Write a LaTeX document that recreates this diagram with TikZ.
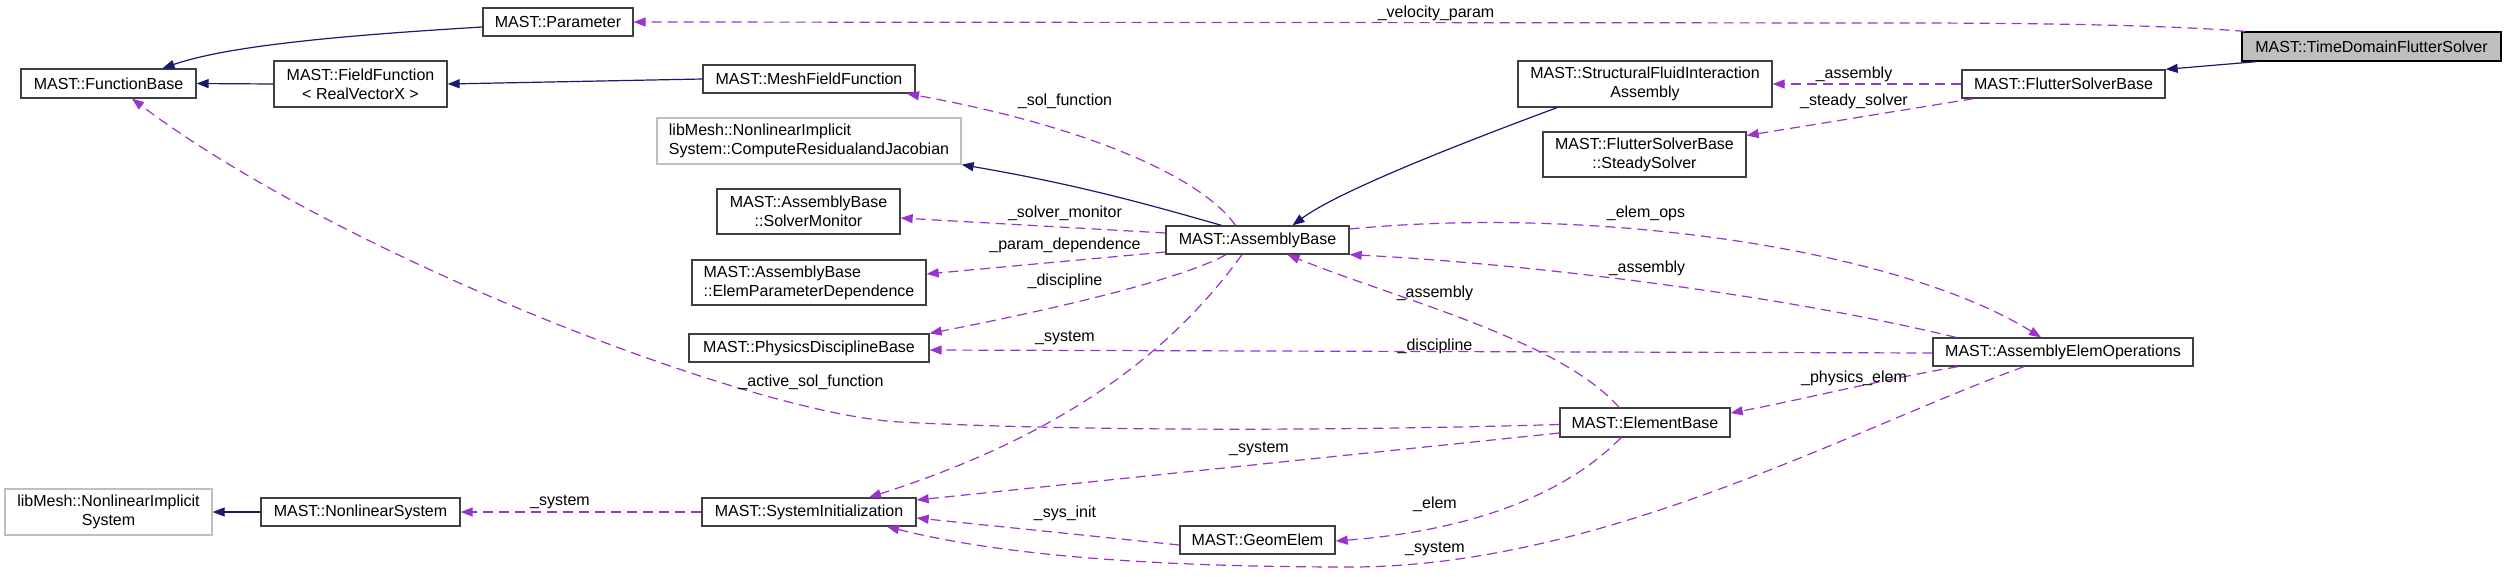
\documentclass[tikz,border=0pt]{standalone}
\usepackage{fontspec}
\setmainfont{Liberation Sans}
\usetikzlibrary{arrows.meta}
\definecolor{inh}{HTML}{191970}
\definecolor{use}{HTML}{9A32CD}
\definecolor{bord}{HTML}{404040}
\definecolor{ext}{HTML}{BFBFBF}
\begin{document}
\begin{tikzpicture}[x=1pt,y=-1pt,
  cls/.style={draw=bord, line width=1.3pt, fill=white, inner sep=0pt, font=\fontsize{16}{19}\selectfont, align=center},
  extcls/.style={cls, draw=ext},
  focus/.style={cls, draw=black, fill=ext},
  sz/.style 2 args={minimum width=#1pt, minimum height=#2pt},
  lbl/.style={inner sep=0pt, font=\fontsize{16}{19}\selectfont},
  inhe/.style={draw=inh, line width=1.2pt, -{Triangle[length=12pt,width=9pt]}},
  usee/.style={draw=use, line width=1.2pt, dash pattern=on 10pt off 6pt, -{Triangle[length=12pt,width=9pt]}}
]
\useasboundingbox[fill=white] (0,0) rectangle (2507,576);

% nodes
\node[cls, sz={150}{28}] (param) at (558,22) {MAST::Parameter};
\node[cls, sz={175}{29}] (fb) at (108.5,83.5) {MAST::FunctionBase};
\node[cls, sz={173}{46}] (ff) at (360.5,84) {MAST::FieldFunction\\{<} RealVectorX {>}};
\node[cls, sz={212}{28}] (mff) at (809,79) {MAST::MeshFieldFunction};
\node[extcls, sz={304}{46}, align=left] (crj) at (809,141) {libMesh::NonlinearImplicit\\System::ComputeResidualandJacobian};
\node[cls, sz={254}{46}] (sfia) at (1645,84) {MAST::StructuralFluidInteraction\\Assembly};
\node[cls, sz={203}{45}] (ss) at (1644.5,154.5) {MAST::FlutterSolverBase\\::SteadySolver};
\node[cls, sz={203}{28}] (fsb) at (2063.5,84) {MAST::FlutterSolverBase};
\node[focus, sz={259}{29}] (tdfs) at (2371.5,46.5) {MAST::TimeDomainFlutterSolver};
\node[cls, sz={183}{45}] (sm) at (808.5,211.5) {MAST::AssemblyBase\\::SolverMonitor};
\node[cls, sz={183}{28}] (ab) at (1257.5,240) {MAST::AssemblyBase};
\node[cls, sz={234}{45}, align=left] (epd) at (809,282.5) {MAST::AssemblyBase\\::ElemParameterDependence};
\node[cls, sz={240}{28}] (pdb) at (809,348) {MAST::PhysicsDisciplineBase};
\node[cls, sz={260}{28}] (aeo) at (2063,352) {MAST::AssemblyElemOperations};
\node[cls, sz={170}{29}] (eb) at (1645,422.5) {MAST::ElementBase};
\node[cls, sz={155}{28}] (ge) at (1257.5,540) {MAST::GeomElem};
\node[cls, sz={214}{28}] (si) at (809,512) {MAST::SystemInitialization};
\node[cls, sz={199}{28}] (nls) at (360.5,512) {MAST::NonlinearSystem};
\node[extcls, sz={207}{46}] (nis) at (108.5,512) {libMesh::NonlinearImplicit\\System};

% inheritance
\draw[inhe] ([yshift=-5pt]param.west) .. controls (350,35) and (230,45) .. ([xshift=54pt]fb.north);
\draw[inhe] (ff.west) -- (fb.east);
\draw[inhe] (mff.west) -- (ff.east);
\draw[inhe] ([xshift=-36pt]ab.north) .. controls (1150,205) and (1080,185) .. (crj.south east);
\draw[inhe] ([xshift=-88pt]sfia.south) .. controls (1470,140) and (1340,190) .. ([xshift=35pt]ab.north);
\draw[inhe] ([xshift=-115pt]tdfs.south) -- (fsb.north east);
\draw[inhe] (nls.west) -- (nis.east);

% usage
\draw[usee] ([xshift=4pt]tdfs.north west) .. controls (2150,24) and (2000,23) .. (1900,23) -- (param.east);
\draw[usee] (fsb.west) -- (sfia.east);
\draw[usee] ([xshift=-90pt]fsb.south) -- ([yshift=19pt]ss.east);
\draw[usee] ([xshift=-22pt]ab.north) .. controls (1200,175) and (1080,125) .. ([xshift=98pt]mff.south);
\draw[usee] ([yshift=7pt]ab.west) -- ([yshift=-6.5pt]sm.east);
\draw[usee] ([yshift=-12pt]ab.west) -- ([yshift=8.5pt]epd.east);
\draw[usee] ([xshift=-31.5pt]ab.south) .. controls (1180,280) and (1050,310) .. (pdb.north east);
\draw[usee] ([xshift=-15.5pt]ab.south) .. controls (1180,340) and (1080,430) .. ([xshift=60pt]si.north);
\draw[usee] ([yshift=11pt]ab.east) .. controls (1600,205) and (1900,250) .. ([xshift=-22pt]aeo.north);
\draw[usee] ([xshift=-107pt]aeo.north) .. controls (1760,290) and (1500,262) .. (ab.south east);
\draw[usee] ([xshift=-26pt]eb.north) .. controls (1560,340) and (1400,300) .. ([xshift=30pt]ab.south);
\draw[usee] ([yshift=-1pt]aeo.west) -- ([yshift=-2pt]pdb.east);
\draw[usee] ([yshift=-2pt]eb.west) .. controls (1300,432) and (1050,430) .. (900,422) .. controls (750,414) and (340,255) .. ([xshift=23.5pt]fb.south);
\draw[usee] ([yshift=-10.5pt]eb.west) -- ([yshift=12pt]si.east);
\draw[usee] ([xshift=-24pt]eb.south) .. controls (1570,490) and (1480,530) .. ([yshift=-1pt]ge.east);
\draw[usee] ([xshift=-105pt]aeo.south) .. controls (1880,380) and (1800,400) .. ([yshift=9.5pt]eb.east);
\draw[usee] ([xshift=-39pt]aeo.south) .. controls (1850,430) and (1600,567) .. (1350,567) .. controls (1150,567) and (1000,555) .. ([xshift=78pt]si.south);
\draw[usee] ([yshift=-5pt]ge.west) -- ([yshift=-6pt]si.east);
\draw[usee] (si.west) -- (nls.east);

% labels
\node[lbl] (l1) at (1436,13) {\_velocity\_param};
\node[lbl] (l2) at (1854,74) {\_assembly};
\node[lbl] (l3) at (1854,101) {\_steady\_solver};
\node[lbl] (l4) at (1065,101) {\_sol\_function};
\node[lbl] (l5) at (1065,213) {\_solver\_monitor};
\node[lbl] (l6) at (1065,245) {\_param\_dependence};
\node[lbl] (l7) at (1065,281) {\_discipline};
\node[lbl] (l8) at (1065,338) {\_system};
\node[lbl] (l9) at (811,382) {\_active\_sol\_function};
\node[lbl] (l10) at (1646,213) {\_elem\_ops};
\node[lbl] (l11) at (1647,268) {\_assembly};
\node[lbl] (l12) at (1435,293) {\_assembly};
\node[lbl] (l13) at (1435,346) {\_discipline};
\node[lbl] (l14) at (1854,378) {\_physics\_elem};
\node[lbl] (l15) at (1259,449) {\_system};
\node[lbl] (l16) at (1065,513) {\_sys\_init};
\node[lbl] (l17) at (1435,504) {\_elem};
\node[lbl] (l18) at (1435,549) {\_system};
\node[lbl] (l19) at (560,502) {\_system};
\end{tikzpicture}
\end{document}
